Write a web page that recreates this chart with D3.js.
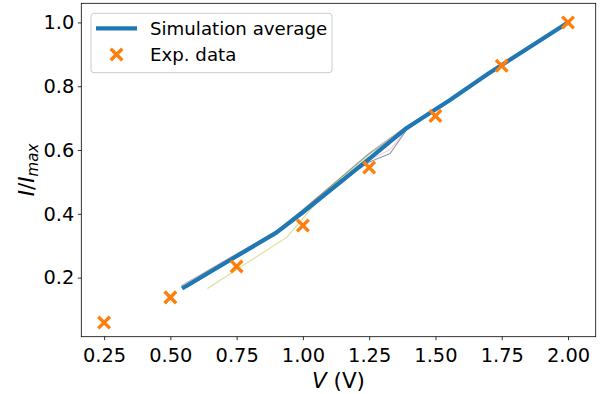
<!DOCTYPE html>
<html><head><meta charset="utf-8">
<script src="https://cdn.jsdelivr.net/npm/d3@7"></script>
<style>body{margin:0;background:#fff}svg{display:block}text{font-family:"DejaVu Sans",sans-serif}</style>
</head><body>
<script>
// Experimental data
const expV = [0.25, 0.50, 0.75, 1.00, 1.25, 1.50, 1.75, 2.00];
const expI = [0.059, 0.138, 0.235, 0.363, 0.545, 0.707, 0.864, 1.000];
// Simulation average
const simV = [0.544, 0.90, 1.00, 1.25, 1.393, 1.555, 1.70, 2.00];
const simI = [0.166, 0.341, 0.405, 0.572, 0.670, 0.757, 0.840, 1.000];
// Individual simulation runs
const run1V = [0.55, 0.90, 1.00, 1.10, 1.25, 1.40, 1.555, 1.70, 2.00];
const run1I = [0.170, 0.343, 0.412, 0.482, 0.587, 0.672, 0.757, 0.840, 1.000];
const run2V = [0.54, 0.90, 1.00, 1.25, 1.37, 1.555, 1.70, 2.00];
const run2I = [0.174, 0.346, 0.413, 0.590, 0.662, 0.757, 0.840, 1.000];
const run3V = [0.56, 0.90, 1.00, 1.20, 1.253, 1.329, 1.39, 1.555, 1.70, 2.00];
const run3I = [0.168, 0.340, 0.400, 0.535, 0.563, 0.589, 0.662, 0.757, 0.840, 1.000];
const run4V = [0.55, 0.90, 1.00, 1.25, 1.33, 1.39, 1.555, 1.70, 2.00];
const run4I = [0.167, 0.339, 0.402, 0.568, 0.602, 0.665, 0.757, 0.840, 1.000];
const run5V = [0.64, 0.94, 1.02, 1.10, 1.25, 1.40, 1.555, 1.70, 2.00];
const run5I = [0.166, 0.327, 0.405, 0.478, 0.578, 0.670, 0.757, 0.840, 1.000];
const runs = [
  {v: run1V, i: run1I, color: "#2ca02c", a: 0.5},
  {v: run2V, i: run2I, color: "#8c564b", a: 0.5},
  {v: run4V, i: run4I, color: "#e377c2", a: 0.4},
  {v: run3V, i: run3I, color: "#5f7f8f", a: 0.75},
  {v: run5V, i: run5I, color: "#bcbd22", a: 0.5}
];
const xTicks = [0.25, 0.50, 0.75, 1.00, 1.25, 1.50, 1.75, 2.00];
const yTicks = [0.2, 0.4, 0.6, 0.8, 1.0];

const W = 610, H = 394;
const L = 81.3, R = 595.7, T = 3.3, B = 336.7;
const svg = d3.select("body").append("svg").attr("width", W).attr("height", H);
const x = d3.scaleLinear().domain([0.164, 2.1045]).range([L, R]);
const y = d3.scaleLinear().domain([0.0147, 1.060]).range([B, T]);

const line = d3.line().x(d => x(d[0])).y(d => y(d[1]));

// runs
runs.forEach(r => {
  svg.append("path").attr("d", line(r.v.map((v, k) => [v, r.i[k]])))
    .attr("fill", "none").attr("stroke", r.color).attr("stroke-opacity", r.a).attr("stroke-width", 1.1);
});
// average
svg.append("path").attr("d", line(simV.map((v, k) => [v, simI[k]])))
  .attr("fill", "none").attr("stroke", "#1f77b4").attr("stroke-width", 4.2)
  .attr("stroke-linejoin", "round").attr("stroke-linecap", "butt");

// markers
const ms = 5.8;
const cross = `M${-ms},${-ms}L${ms},${ms}M${-ms},${ms}L${ms},${-ms}`;
svg.append("g").selectAll("path").data(expV.map((v, k) => [v, expI[k]])).join("path")
  .attr("d", cross).attr("transform", d => `translate(${x(d[0])},${y(d[1])})`)
  .attr("stroke", "#ff7f0e").attr("stroke-width", 3.4).attr("fill", "none");

// axes
const xa = svg.append("g").attr("transform", `translate(0,${B})`)
  .call(d3.axisBottom(x).tickValues(xTicks).tickFormat(d3.format(".2f")).tickSize(3.5).tickPadding(3.5));
const ya = svg.append("g").attr("transform", `translate(${L},0)`)
  .call(d3.axisLeft(y).tickValues(yTicks).tickFormat(d3.format(".1f")).tickSize(3.5).tickPadding(3.5));
[xa, ya].forEach(a => {
  a.select(".domain").remove();
  a.selectAll("line").attr("stroke", "#000").attr("stroke-width", 0.8);
  a.selectAll("text").attr("font-size", 19.4).attr("fill", "#000").attr("font-family", "DejaVu Sans");
});
xa.selectAll("text").attr("dy", "0.95em");
// frame
svg.append("rect").attr("x", L).attr("y", T).attr("width", R - L).attr("height", B - T)
  .attr("fill", "none").attr("stroke", "#000").attr("stroke-width", 0.8);

// axis labels
const xl = svg.append("text").attr("x", (L + R) / 2).attr("y", 388).attr("text-anchor", "middle")
  .attr("font-size", 21.5).attr("fill", "#000");
xl.append("tspan").attr("font-style", "italic").text("V");
xl.append("tspan").text(" (V)");

const yl = svg.append("text").attr("transform", `translate(34,${(T + B) / 2}) rotate(-90)`)
  .attr("text-anchor", "middle").attr("font-size", 21.5).attr("fill", "#000");
yl.append("tspan").attr("font-style", "italic").text("I");
yl.append("tspan").text("/");
yl.append("tspan").attr("font-style", "italic").text("I");
yl.append("tspan").attr("font-style", "italic").attr("font-size", 15).attr("dy", 4).text("max");

// legend
const lg = svg.append("g");
lg.append("rect").attr("x", 91).attr("y", 13.3).attr("width", 241).attr("height", 59.4).attr("rx", 3)
  .attr("fill", "#fff").attr("fill-opacity", 0.8).attr("stroke", "#ccc").attr("stroke-width", 1);
lg.append("line").attr("x1", 96).attr("x2", 137).attr("y1", 28.3).attr("y2", 28.3)
  .attr("stroke", "#1f77b4").attr("stroke-width", 4.2);
lg.append("path").attr("d", cross).attr("transform", "translate(116.5,54.5)")
  .attr("stroke", "#ff7f0e").attr("stroke-width", 3.4).attr("fill", "none");
lg.append("text").attr("x", 150).attr("y", 34.8).attr("font-size", 18.2).attr("fill", "#000").text("Simulation average");
lg.append("text").attr("x", 150).attr("y", 61).attr("font-size", 18.2).attr("fill", "#000").text("Exp. data");
</script>
</body></html>
